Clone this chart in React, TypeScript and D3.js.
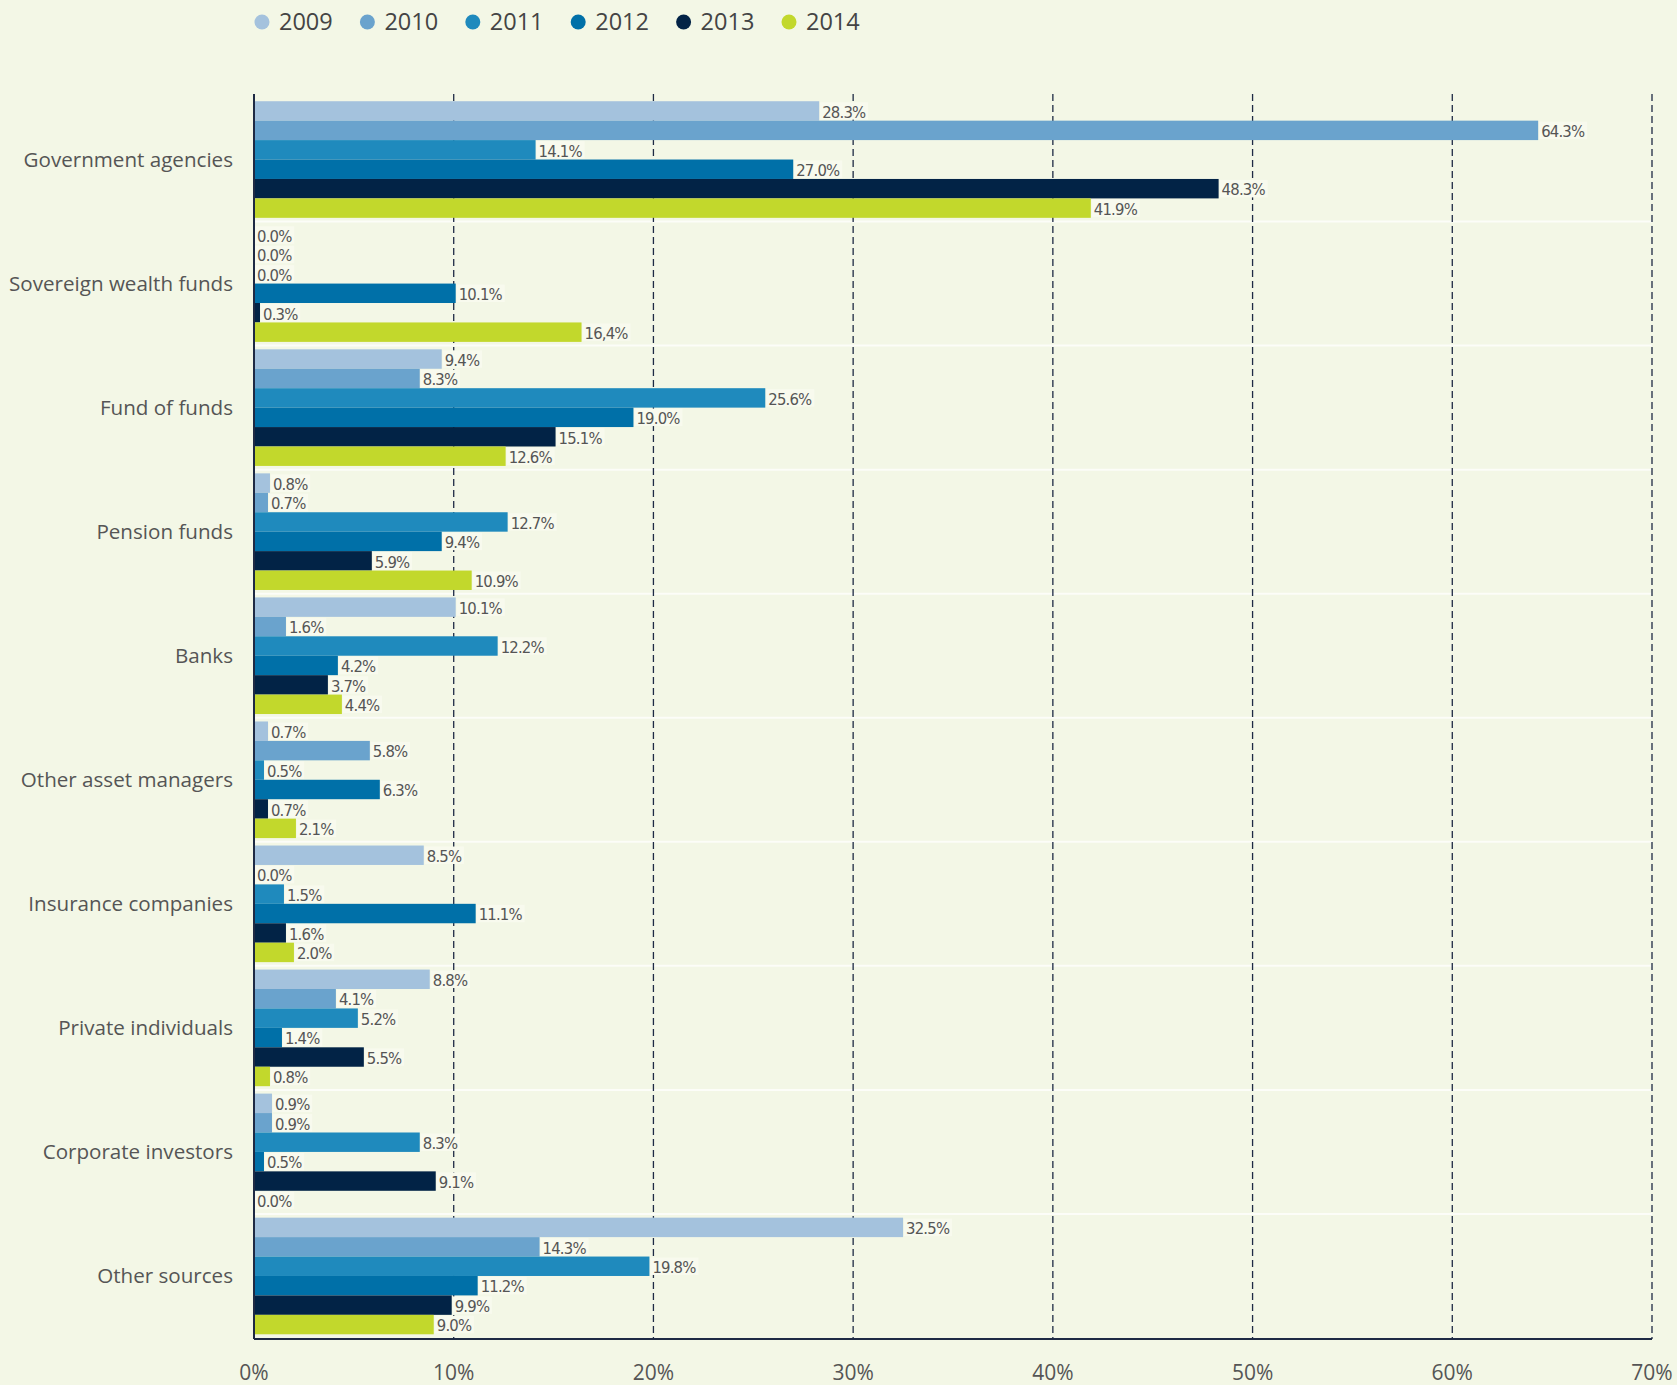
import * as d3 from 'd3';

const categories = [
  'Government agencies',
  'Sovereign wealth funds',
  'Fund of funds',
  'Pension funds',
  'Banks',
  'Other asset managers',
  'Insurance companies',
  'Private individuals',
  'Corporate investors',
  'Other sources',
];

const years = ['2009', '2010', '2011', '2012', '2013', '2014'];
const colours = ['#a4c2dd', '#6aa3cd', '#1f8abd', '#0070a8', '#022346', '#c2d82c'];

// share of investment per year, in category order
const v2009 = [28.3, 0.0, 9.4, 0.8, 10.1, 0.7, 8.5, 8.8, 0.9, 32.5];
const v2010 = [64.3, 0.0, 8.3, 0.7, 1.6, 5.8, 0.0, 4.1, 0.9, 14.3];
const v2011 = [14.1, 0.0, 25.6, 12.7, 12.2, 0.5, 1.5, 5.2, 8.3, 19.8];
const v2012 = [27.0, 10.1, 19.0, 9.4, 4.2, 6.3, 11.1, 1.4, 0.5, 11.2];
const v2013 = [48.3, 0.3, 15.1, 5.9, 3.7, 0.7, 1.6, 5.5, 9.1, 9.9];
const v2014 = [41.9, 16.4, 12.6, 10.9, 4.4, 2.1, 2.0, 0.8, 0.0, 9.0];

const series = [v2009, v2010, v2011, v2012, v2013, v2014];

// the source prints one value with a comma
const labelOverrides: Record<string, string> = { 'Sovereign wealth funds|2014': '16,4%' };

const xTicks = [0, 10, 20, 30, 40, 50, 60, 70];

const W = 1677;
const H = 1385;
const BG = '#f3f7e6';
const INK = '#1e2a44';
const TEXT = '#555';

type Bar = { cat: string; year: string; value: number; colour: string };

export default function App() {
  const margin = { top: 94, left: 254, right: 25, bottom: 46 };
  const baseline = H - margin.bottom;

  const x = d3.scaleLinear().domain([0, 70]).range([margin.left, W - margin.right]);

  const y = d3.scaleBand<string>()
    .domain(categories)
    .range([97.5, 1338])
    .paddingInner(0.06)
    .paddingOuter(0.03);

  const yInner = d3.scaleBand<string>().domain(years).range([0, y.bandwidth()]);

  const bars: Bar[] = categories.flatMap((cat, ci) =>
    years.map((year, yi) => ({ cat, year, value: series[yi][ci], colour: colours[yi] }))
  );

  const label = (b: Bar) => labelOverrides[`${b.cat}|${b.year}`] ?? `${b.value.toFixed(1)}%`;

  const legendX = d3.scalePoint<string>().domain(years).range([262, 789]);

  const valueFont = "'DejaVu Sans Condensed', 'Liberation Sans Narrow', 'DejaVu Sans', sans-serif";
  const mainFont = "'Open Sans', 'Noto Sans', sans-serif";

  return (
    <div style={{ position: 'absolute', left: 0, top: 0, width: W, height: H }}>
      <svg width={W} height={H} style={{ display: 'block' }}>
        <rect width={W} height={H} fill={BG} />

        {/* legend */}
        <g>
          {years.map((yr, i) => (
            <g key={yr} transform={`translate(${legendX(yr)},22)`}>
              <circle r={7.5} fill={colours[i]} />
              <text x={17} dy="0.36em" fontFamily={mainFont} fontSize={23.5} fill="#444">
                {yr}
              </text>
            </g>
          ))}
        </g>

        {/* faint separators between groups */}
        {categories.slice(1).map(cat => (
          <line
            key={cat}
            x1={margin.left}
            x2={x(70)}
            y1={(y(cat) ?? 0) - (y.step() * 0.06) / 2}
            y2={(y(cat) ?? 0) - (y.step() * 0.06) / 2}
            stroke="#ffffff"
            strokeOpacity={0.7}
            strokeWidth={2}
          />
        ))}

        {/* dashed gridlines */}
        {xTicks.slice(1).map(t => (
          <line
            key={t}
            x1={x(t)}
            x2={x(t)}
            y1={margin.top}
            y2={baseline}
            stroke={INK}
            strokeWidth={1.3}
            strokeDasharray="7,4"
          />
        ))}

        {/* bars */}
        {bars.map(b => (
          <rect
            key={`${b.cat}-${b.year}`}
            x={x(0)}
            y={(y(b.cat) ?? 0) + (yInner(b.year) ?? 0)}
            width={x(b.value) - x(0)}
            height={yInner.bandwidth()}
            fill={b.colour}
          />
        ))}

        {/* value labels with background boxes */}
        {bars.map(b => {
          const txt = label(b);
          const bx = x(b.value) + 1;
          const by = (y(b.cat) ?? 0) + (yInner(b.year) ?? 0);
          const tw = txt.length * 8.8 + 4;
          return (
            <g key={`l-${b.cat}-${b.year}`}>
              <rect x={bx} y={by + 1} width={tw} height={yInner.bandwidth() - 2} fill="#f8faee" />
              <text
                x={bx + 2}
                y={by + yInner.bandwidth() / 2 + 1}
                dy="0.35em"
                fontFamily={valueFont}
                fontSize={16.5}
                letterSpacing={-0.8}
                fill={TEXT}
              >
                {txt}
              </text>
            </g>
          );
        })}

        {/* axes */}
        <line x1={x(0)} x2={x(0)} y1={margin.top} y2={baseline} stroke={INK} strokeWidth={2} />
        <line x1={x(0)} x2={x(70)} y1={baseline} y2={baseline} stroke={INK} strokeWidth={2} />

        {xTicks.map(t => (
          <text
            key={t}
            x={x(t)}
            y={1373}
            dy="0.35em"
            textAnchor="middle"
            fontFamily={mainFont}
            fontSize={21}
            fill={TEXT}
          >
            {`${t}%`}
          </text>
        ))}

        {categories.map(cat => (
          <text
            key={cat}
            x={233}
            y={(y(cat) ?? 0) + y.bandwidth() / 2}
            dy="0.35em"
            textAnchor="end"
            fontFamily={mainFont}
            fontSize={20.6}
            fill={TEXT}
          >
            {cat}
          </text>
        ))}
      </svg>
    </div>
  );
}
